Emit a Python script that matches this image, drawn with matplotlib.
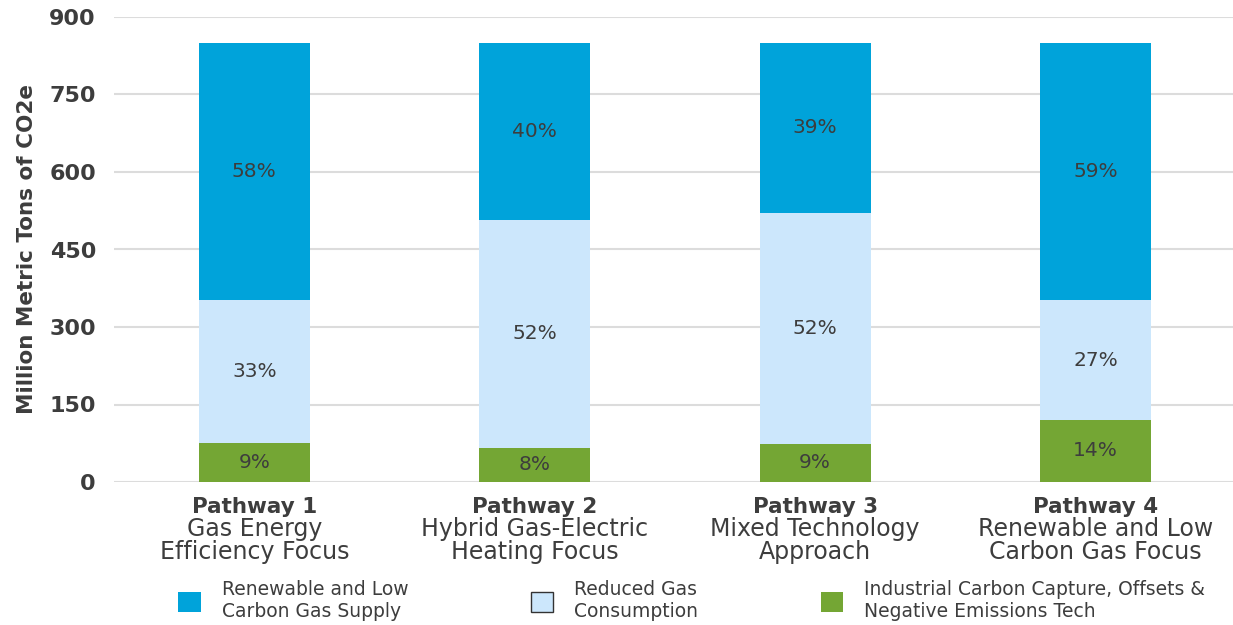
from matplotlib import pyplot as plt
from matplotlib.patches import Patch
import numpy as np

# valores (millones de toneladas CO2e)
pathways = ['Pathway 1', 'Pathway 2', 'Pathway 3', 'Pathway 4']
subtitles = ['Gas Energy\nEfficiency Focus', 'Hybrid Gas-Electric\nHeating Focus',
             'Mixed Technology\nApproach', 'Renewable and Low\nCarbon Gas Focus']
industrial = [75, 66, 74, 120]
reduced = [277, 441, 447, 232]
renewable = [498, 343, 329, 498]
pct_ind = ['9%', '8%', '9%', '14%']
pct_red = ['33%', '52%', '52%', '27%']
pct_ren = ['58%', '40%', '39%', '59%']

series_names = ['Renewable and Low\nCarbon Gas Supply', 'Reduced Gas\nConsumption',
                'Industrial Carbon Capture, Offsets &\nNegative Emissions Tech']
colores = ['#00a3da', '#cce7fc', '#74a634']
txt = '#3d3d3d'

plt.rcParams['font.family'] = ['DejaVu Sans']

fig = plt.figure(figsize=(12.33, 6.25), dpi=100)
ax = fig.add_axes([0.0925, 0.2288, 0.9075, 0.744])

x = np.arange(len(pathways))
w = 0.395
ind = np.array(industrial)
red = np.array(reduced)
ren = np.array(renewable)

ax.bar(x, ind, w, color=colores[2], zorder=3)
ax.bar(x, red, w, bottom=ind, color=colores[1], zorder=3)
ax.bar(x, ren, w, bottom=ind + red, color=colores[0], zorder=3)

for i in range(len(x)):
    ax.text(x[i], ind[i] / 2, pct_ind[i], ha='center', va='center', fontsize=14.5, color=txt, zorder=4)
    ax.text(x[i], ind[i] + red[i] / 2, pct_red[i], ha='center', va='center', fontsize=14.5, color=txt, zorder=4)
    ax.text(x[i], ind[i] + red[i] + ren[i] / 2, pct_ren[i], ha='center', va='center', fontsize=14.5, color=txt, zorder=4)

ax.set_ylim(0, 900)
ax.set_xlim(-0.5, 3.49)
ax.set_yticks(np.arange(0, 901, 150))
ax.yaxis.grid(True, color='#dcdcdc', linewidth=1.5, zorder=0)
for s in ax.spines.values():
    s.set_visible(False)
ax.tick_params(axis='y', length=0, pad=13, labelsize=16, labelcolor=txt)
for lab in ax.get_yticklabels():
    lab.set_fontweight('bold')
ax.set_xticks([])
ax.set_ylabel('Million Metric Tons of CO2e', fontsize=15.5, fontweight='bold', color=txt, labelpad=9)

for i in range(len(x)):
    ax.text(x[i], -29, pathways[i], ha='center', va='top', fontsize=15.5, fontweight='bold', color=txt)
    ax.text(x[i], -68, subtitles[i], ha='center', va='top', fontsize=17, color=txt, linespacing=0.95)

handles = [Patch(facecolor=colores[0]),
           Patch(facecolor=colores[1], edgecolor='#333333', linewidth=1),
           Patch(facecolor=colores[2])]
fig.legend(handles, series_names, loc='lower left', bbox_to_anchor=(0.131, -0.021), ncol=3,
           frameon=False, fontsize=13.5, handlelength=1.2, handleheight=1.2,
           handletextpad=1.1, columnspacing=6.55, labelcolor=txt)

plt.savefig('out.png')
